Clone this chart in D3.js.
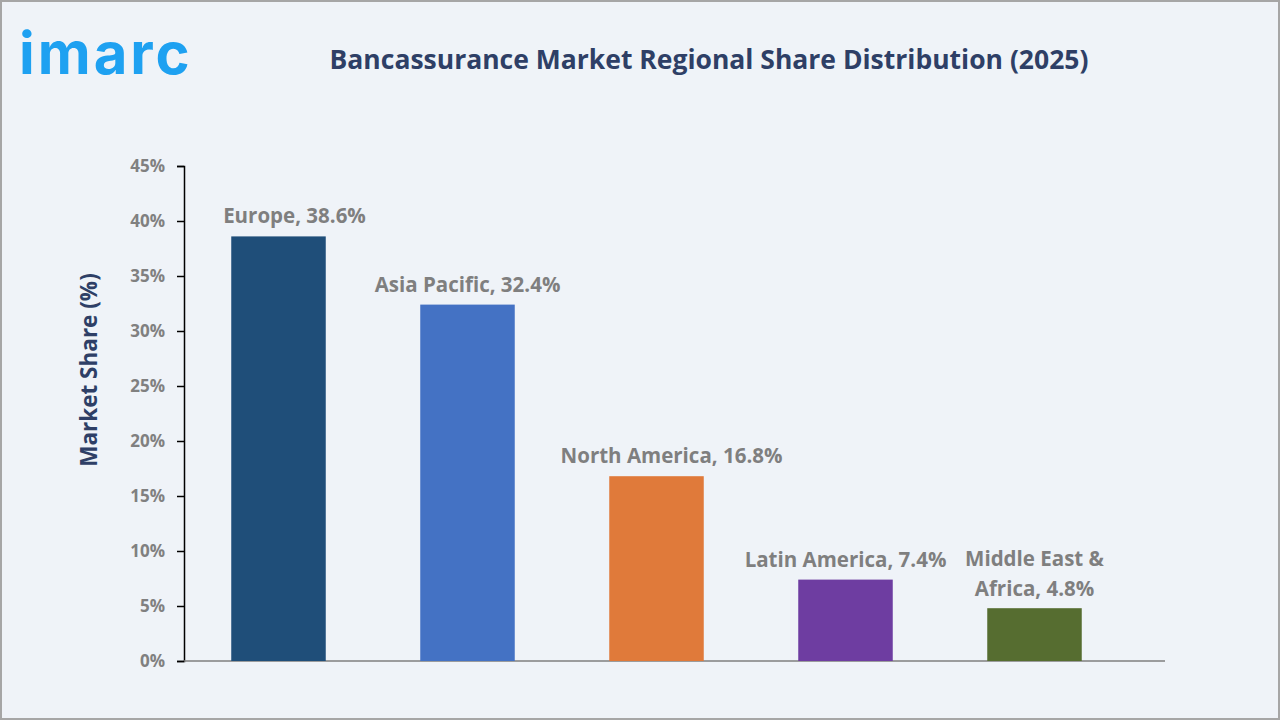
<!DOCTYPE html>
<html>
<head>
<meta charset="utf-8">
<script src="https://cdn.jsdelivr.net/npm/d3@7"></script>
<style>
  body { margin: 0; background: #eff3f8; }
  svg { display: block; }
</style>
</head>
<body>
<script>
const regions = ["Europe", "Asia Pacific", "North America", "Latin America", "Middle East & Africa"];
const shares = [38.6, 32.4, 16.8, 7.4, 4.8];
const colors = ["#1f4e79", "#4472c4", "#e07a3a", "#6e3da1", "#566d30"];
const labelShift = [16, 0, 15, 0, 0];
const yTicks = [0, 5, 10, 15, 20, 25, 30, 35, 40, 45];

const width = 1280, height = 720;

const svg = d3.select("body").append("svg")
  .attr("width", width)
  .attr("height", height);

svg.append("rect")
  .attr("x", 1).attr("y", 1)
  .attr("width", width - 2).attr("height", height - 2)
  .attr("fill", "#eff3f8")
  .attr("stroke", "#a6a6a6")
  .attr("stroke-width", 2);

// logo
svg.append("text")
  .attr("x", 19).attr("y", 74)
  .attr("font-family", "Inter, sans-serif")
  .attr("font-weight", 700)
  .attr("font-size", 58)
  .attr("fill", "#1ea1f1")
  .attr("letter-spacing", 3)
  .text("imarc");

// title
svg.append("text")
  .attr("x", 709).attr("y", 69)
  .attr("text-anchor", "middle")
  .attr("font-family", "'Open Sans', sans-serif")
  .attr("font-weight", 700)
  .attr("font-size", 26.5)
  .attr("fill", "#2e3f66")
  .text("Bancassurance Market Regional Share Distribution (2025)");

const x = d3.scaleBand()
  .domain(regions)
  .range([184, 1129])
  .paddingInner(0.5)
  .paddingOuter(0.25);

const y = d3.scaleLinear()
  .domain([0, 45])
  .range([661, 166]);

// y axis
const yAxis = svg.append("g")
  .attr("transform", "translate(184,0)")
  .call(d3.axisLeft(y).tickValues(yTicks).tickFormat(d => d + "%").tickSize(7).tickPadding(12));
yAxis.select(".domain").attr("stroke", "#000").attr("stroke-width", 1.5);
yAxis.selectAll(".tick line").attr("stroke", "#000").attr("stroke-width", 1.5);
yAxis.selectAll(".tick text")
  .attr("font-family", "'Open Sans', sans-serif")
  .attr("font-weight", 700)
  .attr("font-size", 17)
  .attr("fill", "#808080");

// baseline
svg.append("line")
  .attr("x1", 184).attr("x2", 1165)
  .attr("y1", y(0)).attr("y2", y(0))
  .attr("stroke", "#7f7f7f")
  .attr("stroke-width", 1.5);

svg.append("text")
  .attr("transform", "translate(97,370) rotate(-90)")
  .attr("text-anchor", "middle")
  .attr("font-family", "'Open Sans', sans-serif")
  .attr("font-weight", 700)
  .attr("font-size", 22.5)
  .attr("fill", "#2e3f66")
  .text("Market Share (%)");

// bars
svg.append("g")
  .selectAll("rect")
  .data(regions)
  .join("rect")
  .attr("x", d => x(d))
  .attr("y", (d, i) => y(shares[i]))
  .attr("width", x.bandwidth())
  .attr("height", (d, i) => y(0) - y(shares[i]))
  .attr("fill", (d, i) => colors[i]);

// labels
const labels = svg.append("g")
  .attr("font-family", "'Open Sans', sans-serif")
  .attr("font-weight", 700)
  .attr("font-size", 20.5)
  .attr("fill", "#7f7f7f")
  .attr("text-anchor", "middle");

regions.forEach((r, i) => {
  const cx = x(r) + x.bandwidth() / 2 + labelShift[i];
  const top = y(shares[i]);
  if (r === "Middle East & Africa") {
    labels.append("text").attr("x", cx).attr("y", top - 42).text("Middle East &");
    labels.append("text").attr("x", cx).attr("y", top - 12).text("Africa, " + shares[i] + "%");
  } else {
    labels.append("text").attr("x", cx).attr("y", top - 13).text(r + ", " + shares[i] + "%");
  }
});
</script>
</body>
</html>
